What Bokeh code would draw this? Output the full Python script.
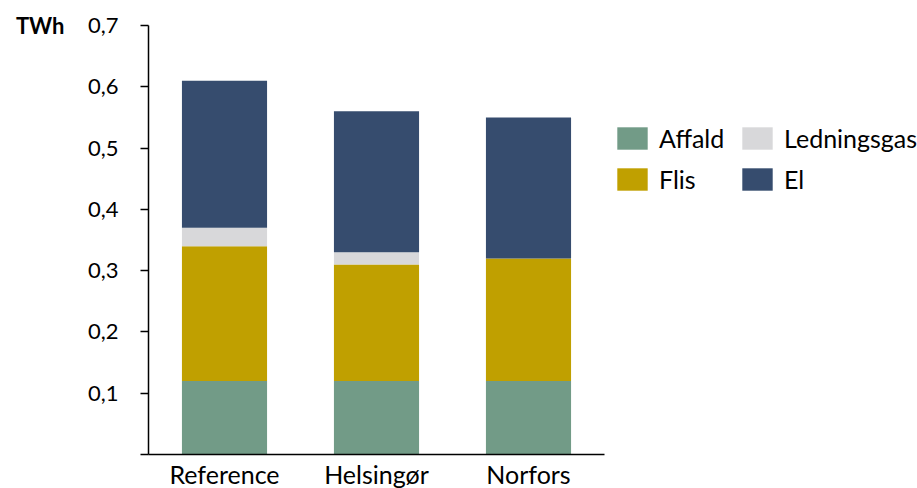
from bokeh.plotting import figure
from bokeh.models import (ColumnDataSource, FixedTicker, CustomJSTickFormatter,
                          Legend, LegendItem, LinearAxis)
from bokeh.embed import file_html
from bokeh.resources import INLINE

# ---- data ----
categories = ["Reference", "Helsingør", "Norfors"]
affald = [0.12, 0.12, 0.12]
flis = [0.22, 0.19, 0.20]
ledningsgas = [0.03, 0.02, 0.0]
el = [0.24, 0.23, 0.23]
series_names = ["Affald", "Flis", "Ledningsgas", "El"]
series_colors = ["#729B87", "#C0A000", "#D8D8DA", "#364C6E"]
y_ticks = [0, 0.1, 0.2, 0.3, 0.4, 0.5, 0.6, 0.7]
y_tick_labels = ["", "0,1", "0,2", "0,3", "0,4", "0,5", "0,6", "0,7"]
unit_label = "TWh"
unit_tick = [0.7]

FONT = "Lato"

source = ColumnDataSource(dict(cat=categories, Affald=affald, Flis=flis,
                               Ledningsgas=ledningsgas, El=el))

p = figure(x_range=categories, y_range=(0, 0.7), frame_width=456, frame_height=429,
           min_border_left=148, min_border_right=313, min_border_top=25,
           min_border_bottom=34, output_backend="svg", toolbar_location=None)

rs = p.vbar_stack(series_names, x="cat", width=0.56, color=series_colors,
                  source=source, line_color=None)

p.xgrid.visible = False
p.ygrid.visible = False
p.outline_line_color = None
p.background_fill_color = "white"
p.border_fill_color = "white"

# y axis
p.yaxis.ticker = FixedTicker(ticks=y_ticks)
p.yaxis.formatter = CustomJSTickFormatter(
    args=dict(yt=y_ticks, yl=y_tick_labels),
    code="""
    let idx = 0, best = 1e9;
    for (let k = 0; k < yt.length; k++) {
      const d = Math.abs(yt[k] - tick);
      if (d < best) { best = d; idx = k; }
    }
    return yl[idx];
    """)
p.yaxis.minor_tick_line_color = None
p.yaxis.major_tick_in = 0
p.yaxis.major_tick_out = 8
p.yaxis.major_tick_line_color = "black"
p.yaxis.major_tick_line_width = 1.5
p.yaxis.axis_line_color = "black"
p.yaxis.axis_line_width = 1.5
p.yaxis.major_label_text_font = FONT
p.yaxis.major_label_text_font_size = "22px"
p.yaxis.major_label_text_color = "black"
p.yaxis.major_label_standoff = 22

# unit label, drawn as a second left axis with one tick label
unit_axis = LinearAxis(ticker=FixedTicker(ticks=unit_tick),
                       formatter=CustomJSTickFormatter(args=dict(u=unit_label), code="return u;"))
unit_axis.axis_line_color = None
unit_axis.major_tick_line_color = None
unit_axis.minor_tick_line_color = None
unit_axis.major_tick_in = 0
unit_axis.major_tick_out = 0
unit_axis.major_label_standoff = 20
unit_axis.major_label_text_font = FONT
unit_axis.major_label_text_font_size = "22px"
unit_axis.major_label_text_font_style = "bold"
unit_axis.major_label_text_color = "black"
p.add_layout(unit_axis, "left")

# x axis
p.xaxis.major_tick_line_color = None
p.xaxis.minor_tick_line_color = None
p.xaxis.major_tick_in = 0
p.xaxis.major_tick_out = 0
p.xaxis.axis_line_color = "black"
p.xaxis.axis_line_width = 1.5
p.xaxis.major_label_text_font = FONT
p.xaxis.major_label_text_font_size = "25px"
p.xaxis.major_label_text_color = "black"
p.xaxis.major_label_standoff = 4

# legend (filled column by column: Affald/Flis, Ledningsgas/El)
legend = Legend(items=[LegendItem(label=series_names[i], renderers=[rs[i]]) for i in range(4)],
                location=(9, 260), ncols=2)
legend.background_fill_alpha = 0
legend.border_line_color = None
legend.padding = 0
legend.margin = 0
legend.spacing = 11
legend.glyph_width = 38
legend.glyph_height = 28
legend.label_standoff = 8
legend.label_width = 68
legend.label_text_font = FONT
legend.label_text_font_size = "25px"
legend.label_text_color = "black"
p.add_layout(legend, "right")

open("out.html", "w").write(file_html(p, INLINE))
